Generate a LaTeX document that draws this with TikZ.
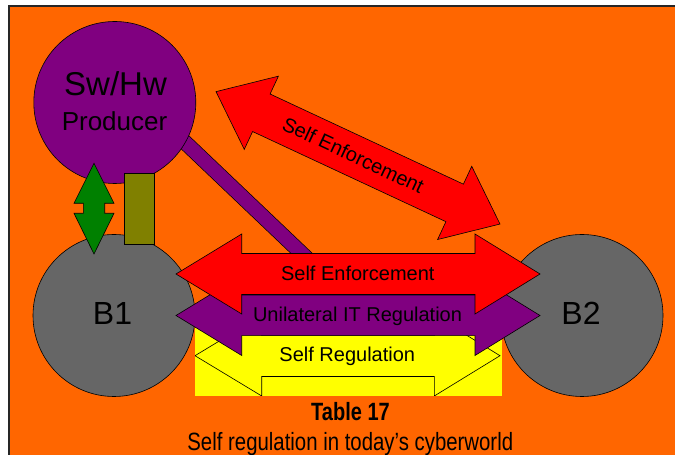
\documentclass[tikz,border=0pt]{standalone}
\usepackage{fontspec}
\setmainfont{Liberation Sans}
\usepackage{graphicx}
\definecolor{bgorange}{HTML}{FF6600}
\definecolor{prodpurple}{HTML}{800080}
\definecolor{bgrey}{HTML}{666666}
\definecolor{olivebox}{HTML}{808000}
\definecolor{arrowgreen}{HTML}{008000}
\definecolor{regyellow}{HTML}{FFFF00}
\definecolor{enfred}{HTML}{FF0000}
\newcommand{\fs}[1]{\fontsize{#1}{#1}\selectfont}
\begin{document}
\begin{tikzpicture}[x=1pt,y=1pt,
  outline/.style={draw=black, line width=0.6pt},
  lbl/.style={text=black, inner sep=0pt, anchor=base},
  party/.style={outline, circle, minimum size=162pt, inner sep=0pt},
]
\useasboundingbox (0,0) rectangle (675,455);
\fill[white] (0,0) rectangle (675,455);

% orange frame
\path[fill=bgorange, draw=black!85, line width=1.8pt] (9,449) rectangle (700,-20);

% link bar from the producer down to the enforcement arrow
\draw[line width=15.4pt, black] (182.6,315) -- (308.4,195.2);
\draw[line width=14pt, prodpurple] (182.6,315) -- (308.4,195.2);

% parties
\node[party, fill=prodpurple] (prod) at (114.8,352.5) {};
\node[party, fill=bgrey] (b1) at (114,139.5) {};
\node[party, fill=bgrey] (b2) at (582,139.5) {};

% green double arrow between producer and B1
\path[outline, fill=arrowgreen] (94,291.7) -- (114,251.7) -- (104.7,251.7) -- (104.7,241.7)
  -- (114,241.7) -- (94,201) -- (74,241.7) -- (83.3,241.7) -- (83.3,251.7) -- (74,251.7) -- cycle;

% olive connector block
\path[outline, fill=olivebox] (124.3,281.7) rectangle (154.3,210.7);

% self regulation (yellow) arrow
\fill[regyellow] (195,59.3) rectangle (501.5,127);
\begin{scope}
  \clip (195,59.3) rectangle (501.5,127);
  \draw[black, line width=0.6pt] (195,99.3) -- (261.7,139.6) -- (261.7,119.3) -- (434.3,119.3)
    -- (434.3,139.6) -- (500,99.3) -- (434.3,59) -- (434.3,78.5) -- (261.7,78.5) -- (261.7,59) -- cycle;
\end{scope}

% unilateral IT regulation (purple) arrow
\path[outline, fill=prodpurple] (176,139.5) -- (241.7,179.5) -- (241.7,160) -- (475,160)
  -- (475,179.5) -- (540,139.5) -- (475,99.5) -- (475,119.3) -- (241.7,119.3) -- (241.7,99.5) -- cycle;

% self enforcement (red) arrow between B1 and B2
\path[outline, fill=enfred] (176,181) -- (241.7,221) -- (241.7,201.5) -- (475,201.5)
  -- (475,221) -- (540,181) -- (475,141) -- (475,160.5) -- (241.7,160.5) -- (241.7,141) -- cycle;

% self enforcement (red) arrow between producer and B2
\begin{scope}[shift={(358,297.15)}, rotate=-25]
  \path[outline, fill=enfred] (-156.65,0) -- (-106.65,40.4) -- (-106.65,20.7) -- (106.65,20.7)
    -- (106.65,40.4) -- (156.65,0) -- (106.65,-40.4) -- (106.65,-20.7) -- (-106.65,-20.7)
    -- (-106.65,-40.4) -- cycle;
\end{scope}

% labels
\node[lbl] (tsw) at (115.5,359.3) {\fs{33}Sw/Hw};
\node[lbl] (tprod) at (114.5,324) {\fs{26}Producer};
\node[lbl] (tb1) at (112.5,130) {\fs{32}B1};
\node[lbl] (tb2) at (581,130) {\fs{32}B2};
\node[lbl] (tse) at (357.8,174) {\fs{20}Self Enforcement};
\node[lbl] (tur) at (357.5,133.3) {\fs{20}Unilateral IT Regulation};
\node[lbl] (tsr) at (347.3,93.3) {\fs{20}Self Regulation};
\node[text=black, inner sep=0pt, rotate=-25] (tsed) at (353.3,300) {\fs{20}Self Enforcement};

% caption
\node[lbl] (cap1) at (350.5,34) {\scalebox{0.8}[1]{\fs{25}\bfseries Table 17}};
\node[lbl] (cap2) at (350.3,4.3) {\scalebox{0.815}[1]{\fs{25}Self regulation in today’s cyberworld}};
\end{tikzpicture}
\end{document}
